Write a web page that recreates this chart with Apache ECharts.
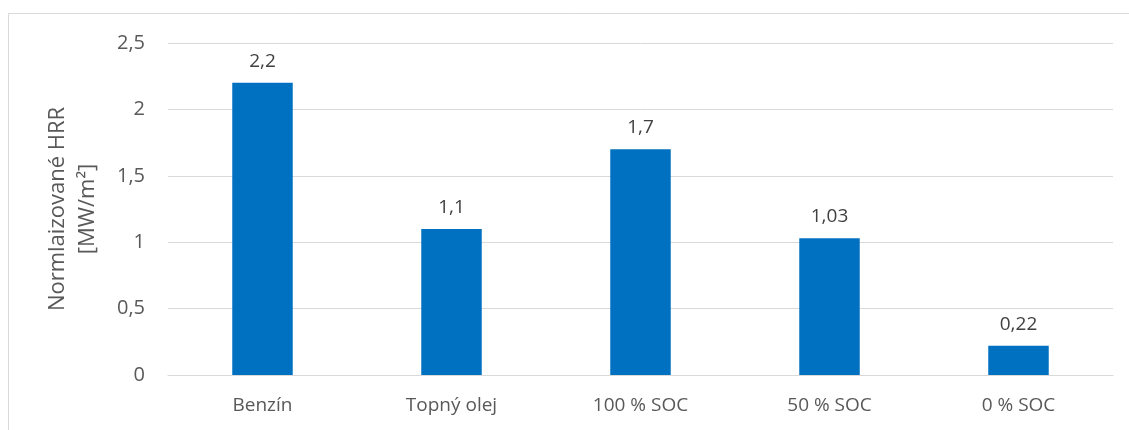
<!DOCTYPE html>
<html>
<head>
<meta charset="utf-8">
<script src="https://cdn.jsdelivr.net/npm/echarts@6/dist/echarts.min.js"></script>
<style>
  html, body { margin: 0; padding: 0; background: #fff; }
  #chart { width: 1129px; height: 430px; }
</style>
</head>
<body>
<div id="chart"></div>
<script>
// Normalised heat release rate per fuel / state of charge
const categories = ['Benzín', 'Topný olej', '100 % SOC', '50 % SOC', '0 % SOC'];
const hrrValues = [2.2, 1.1, 1.7, 1.03, 0.22];
const yTicks = { min: 0, max: 2.5, interval: 0.5 };
const yAxisTitle = 'Normlaizované HRR\n[MW/m²]';

const fontFamily = '"Open Sans", "Noto Sans", sans-serif';
const fmt = v => String(v).replace('.', ',');

const chart = echarts.init(document.getElementById('chart'), null, { renderer: 'canvas' });
chart.setOption({
  animation: false,
  backgroundColor: '#ffffff',
  graphic: [{
    type: 'rect',
    shape: { x: 8.5, y: 13.5, width: 1130, height: 430 },
    style: { fill: 'none', stroke: '#d9d9d9', lineWidth: 1 },
    silent: true
  }],
  grid: { left: 168, right: 16, top: 43, bottom: 55 },
  xAxis: {
    type: 'category',
    data: categories,
    axisLine: { show: true, lineStyle: { color: '#d9d9d9', width: 1 } },
    axisTick: { show: false },
    axisLabel: { color: '#595959', fontSize: 19, fontFamily, margin: 21 }
  },
  yAxis: {
    type: 'value',
    min: yTicks.min,
    max: yTicks.max,
    interval: yTicks.interval,
    axisLine: { show: false },
    axisTick: { show: false },
    splitLine: { lineStyle: { color: '#d9d9d9', width: 1 } },
    axisLabel: { color: '#595959', fontSize: 20, fontFamily, margin: 23, formatter: fmt },
    name: yAxisTitle,
    nameLocation: 'middle',
    nameRotate: 90,
    nameGap: 65,
    nameTextStyle: { color: '#595959', fontSize: 22, fontFamily, lineHeight: 30, align: 'center' }
  },
  series: [{
    type: 'bar',
    data: hrrValues,
    barWidth: '32%',
    itemStyle: { color: '#0070c0' },
    label: {
      show: true,
      position: 'top',
      distance: 12,
      color: '#404040',
      fontSize: 19,
      fontFamily,
      formatter: p => fmt(p.value)
    }
  }]
});
</script>
</body>
</html>
